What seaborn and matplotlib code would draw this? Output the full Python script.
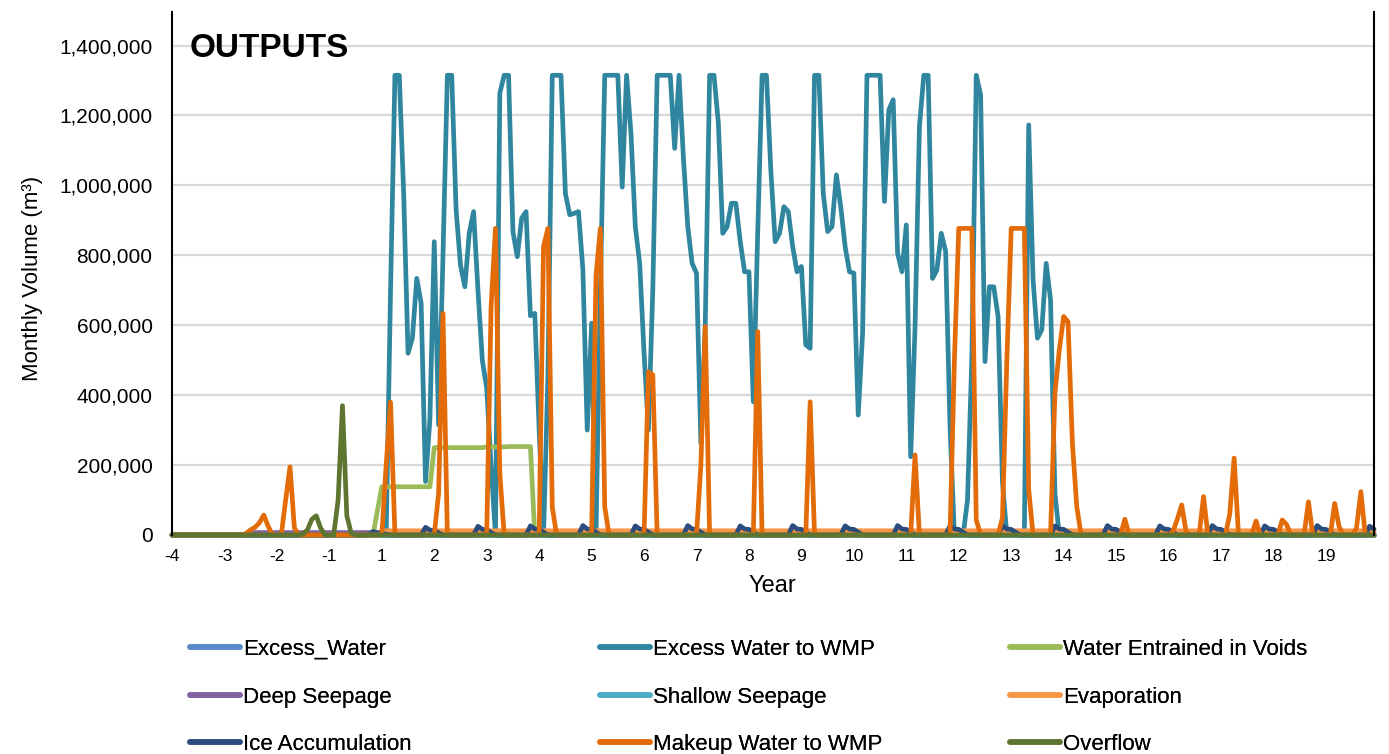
import numpy as np
import pandas as pd
import seaborn as sns
import matplotlib.pyplot as plt
from matplotlib.lines import Line2D
from matplotlib.ticker import FuncFormatter

sns.set_style('white')
plt.rcParams['font.family'] = ['Liberation Sans', 'DejaVu Sans']
plt.rcParams['text.color'] = 'black'
plt.rcParams['xtick.color'] = 'black'
plt.rcParams['ytick.color'] = 'black'

# monthly series, 23 years of 12 months; values in thousand m3
N_MONTHS = 276
YEAR_LABELS = [-4, -3, -2, -1, 1, 2, 3, 4, 5, 6, 7, 8, 9, 10, 11, 12, 13,
               14, 15, 16, 17, 18, 19]

SERIES = ['Excess_Water', 'Excess Water to WMP', 'Water Entrained in Voids',
          'Deep Seepage', 'Shallow Seepage', 'Evaporation',
          'Ice Accumulation', 'Makeup Water to WMP', 'Overflow']
COLORS = ['#5A88C8', '#31869F', '#9BBB59',
          '#8064A2', '#4BACC6', '#F79646',
          '#2B4C7E', '#E36C09', '#5E7532']

# Excess Water to WMP, one row per year (years 1 to 13, months 48-203)
excess_to_wmp = [
    0, 0, 700, 1315, 1315, 978, 520, 563, 734, 663, 153, 329,
    839, 315, 800, 1315, 1315, 930, 772, 710, 863, 925, 700, 500,
    420, 200, 0, 1264, 1315, 1315, 868, 796, 906, 925, 627, 634,
    300, 0, 450, 1315, 1315, 1315, 977, 916, 920, 925, 760, 300,
    606, 0, 700, 1315, 1315, 1315, 1315, 995, 1315, 1150, 882, 777,
    520, 300, 700, 1315, 1315, 1315, 1315, 1106, 1315, 1080, 882, 777,
    749, 262, 600, 1315, 1315, 1178, 863, 882, 949, 949, 840, 753,
    753, 381, 863, 1315, 1315, 1044, 839, 863, 939, 925, 825, 753,
    768, 544, 534, 1315, 1315, 977, 868, 882, 1030, 939, 825, 753,
    749, 343, 577, 1315, 1315, 1315, 1315, 954, 1216, 1245, 806, 753,
    887, 224, 596, 1168, 1315, 1315, 734, 758, 863, 811, 310, 0,
    0, 0, 100, 510, 1315, 1259, 496, 710, 710, 625, 150, 0,
    0, 0, 0, 0, 1173, 729, 563, 587, 777, 672, 119, 0,
]

# (first month, values) pieces for the other series
makeup_events = [
    (17, [5, 15, 22, 35, 57, 25, 0, 0, 0, 100, 195, 20]),
    (49, [200, 380]), (61, [120, 634]), (73, [653, 877, 176]),
    (85, [825, 877, 80]), (97, [740, 877, 81]), (109, [467, 458]),
    (121, [200, 596]), (134, [582]), (146, [381]), (170, [229]),
    (179, [500, 877, 877, 877, 877, 43]),
    (190, [50, 500, 877, 877, 877, 877, 130]),
    (202, [405, 529, 625, 610, 262, 81]),
    (218, [45]), (229, [10, 45, 86, 10]), (236, [110]), (242, [60, 220]),
    (248, [40]), (254, [43, 30]), (260, [95]), (266, [90, 25]),
    (271, [20, 124]),
]
entrained_events = [
    (47, [70, 138, 138, 138, 138, 138, 138, 138, 138, 138, 138, 138, 138]),
    (60, [250, 250, 250, 250, 250, 250, 250, 250, 250, 250, 250, 250,
          252, 252, 252, 252, 252, 253, 253, 253, 253, 253, 253]),
]
overflow_events = [(30, [3, 15, 45, 55, 20, 0, 0, 0, 100, 370, 55, 5])]
ice_events = [
    (46, [10, 6, 5, 2]), (58, [22, 14, 13, 6]), (70, [25, 16, 15, 7]),
    (82, [26, 17, 16, 8]), (94, [27, 17, 16, 8]), (106, [26, 17, 16, 8]),
    (118, [27, 17, 16, 8]), (130, [26, 17, 16, 8]), (142, [27, 17, 16, 8]),
    (154, [26, 17, 16, 8]), (166, [27, 17, 16, 8]), (178, [26, 17, 16, 8]),
    (190, [27, 17, 16, 8]), (202, [26, 17, 16, 8]), (214, [27, 17, 16, 8]),
    (226, [26, 17, 16, 8]), (238, [27, 17, 16, 8]), (250, [26, 17, 16, 8]),
    (262, [27, 17, 16, 8]), (274, [25, 17]),
]
evaporation_events = [(48, [12] * 228)]
deep_seepage_events = [(18, [7] * 258)]


def monthly(events):
    vals = np.zeros(N_MONTHS)
    for start, values in events:
        vals[start:start + len(values)] = values
    return vals * 1000


def build_frame():
    data = {
        'Excess_Water': monthly([]),
        'Excess Water to WMP': monthly([(48, excess_to_wmp)]),
        'Water Entrained in Voids': monthly(entrained_events),
        'Deep Seepage': monthly(deep_seepage_events),
        'Shallow Seepage': monthly([]),
        'Evaporation': monthly(evaporation_events),
        'Ice Accumulation': monthly(ice_events),
        'Makeup Water to WMP': monthly(makeup_events),
        'Overflow': monthly(overflow_events),
    }
    frames = []
    for name in SERIES:
        frames.append(pd.DataFrame({'month': np.arange(N_MONTHS),
                                    'volume': data[name], 'series': name}))
    return pd.concat(frames, ignore_index=True)


def main():
    df = build_frame()
    palette = dict(zip(SERIES, COLORS))

    fig = plt.figure(figsize=(13.89, 7.54), dpi=100)
    ax = fig.add_axes([172 / 1389, 1 - 535 / 754,
                       1202 / 1389, 523 / 754])
    sns.lineplot(data=df, x='month', y='volume', hue='series',
                 hue_order=SERIES, palette=palette, linewidth=3.4,
                 estimator=None, legend=False, ax=ax)
    for line in ax.lines:
        line.set_clip_on(False)
        line.set_solid_joinstyle('round')

    ax.set_xlim(0, N_MONTHS - 1)
    ax.set_ylim(0, 1496000)
    ax.set_xticks(range(0, N_MONTHS - 11, 12))
    ax.set_xticklabels(YEAR_LABELS)
    ax.set_yticks(range(0, 1400001, 200000))
    ax.yaxis.set_major_formatter(FuncFormatter(lambda v, p: f'{v:,.0f}'))
    ax.tick_params(axis='y', length=0, pad=14, labelsize=15)
    ax.tick_params(axis='x', length=0, pad=10, labelsize=12.5)
    ax.grid(axis='y', color='#D9D9D9', linewidth=1.6)
    ax.set_axisbelow(True)
    ax.set_xlabel('')
    ax.set_ylabel('')
    for side in ['left', 'right']:
        ax.spines[side].set_color('black')
        ax.spines[side].set_linewidth(1.5)
    ax.spines['top'].set_visible(False)
    ax.spines['bottom'].set_visible(False)

    ax.text(0.015, 0.93, 'OUTPUTS', transform=ax.transAxes,
            fontsize=24, fontweight='bold', va='center', ha='left')
    fig.text(33 / 1389, 1 - 278 / 754, 'Monthly Volume (m³)',
             rotation=90, ha='center', va='center', fontsize=16)
    fig.text(772 / 1389, 1 - 586 / 754, 'Year',
             ha='center', va='center', fontsize=17)

    # three legend columns, placed like the original
    columns = [SERIES[0::3], SERIES[1::3], SERIES[2::3]]
    col_x = [190, 600, 1010]
    for names, x in zip(columns, col_x):
        handles = [Line2D([], [], color=palette[n], linewidth=4)
                   for n in names]
        leg = fig.legend(handles, names, loc='center left',
                         bbox_to_anchor=(x / 1389, 1 - 697 / 754),
                         frameon=False, fontsize=16, handlelength=2.25,
                         handletextpad=0.15, labelspacing=1.2,
                         borderpad=0, borderaxespad=0)
        fig.add_artist(leg)

    fig.savefig('out.png', dpi=100)


if __name__ == '__main__':
    main()
